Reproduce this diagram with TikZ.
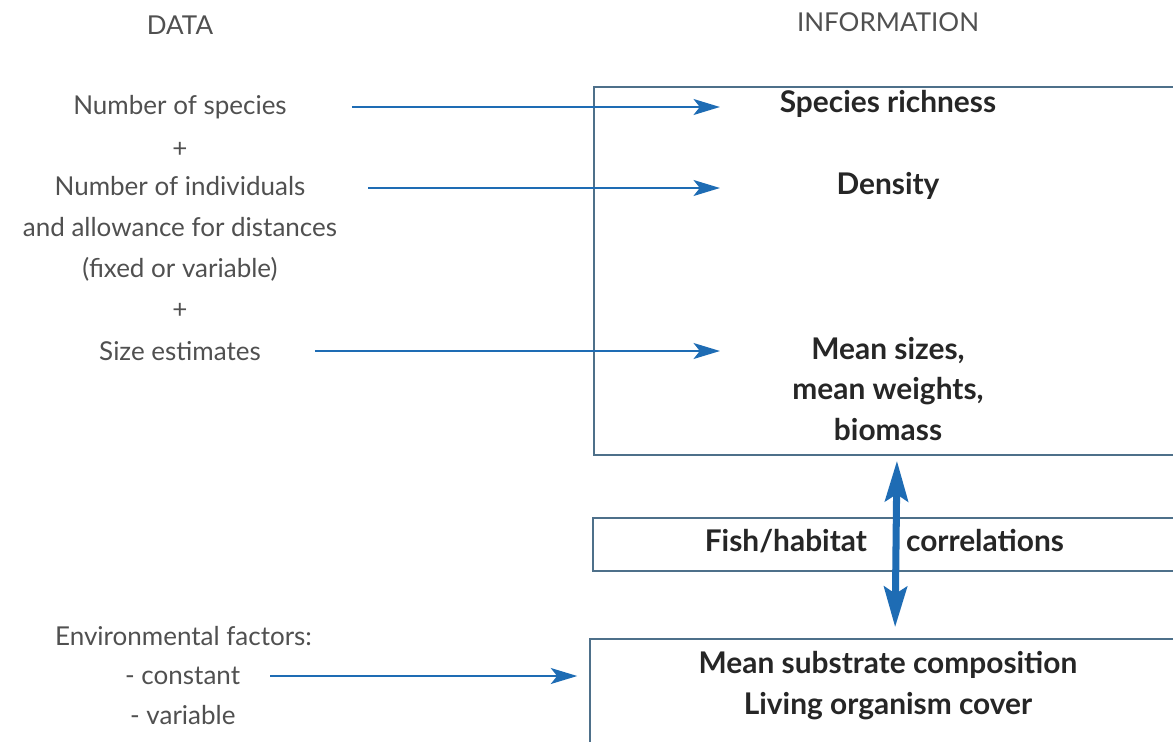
\documentclass[tikz,border=0pt]{standalone}
\usepackage{fontspec}
\setmainfont{Lato}
\usetikzlibrary{arrows.meta,positioning}
\definecolor{arrowblue}{RGB}{30,108,180}
\definecolor{boxline}{RGB}{78,112,138}
\definecolor{datagray}{RGB}{80,80,80}
\tikzset{
  datatext/.style={text=datagray,font=\fontsize{14.8}{23.3}\selectfont,align=center,inner sep=1pt},
  infotext/.style={text=black!85,font=\bfseries\fontsize{17}{23.3}\selectfont,align=center,inner sep=1pt},
  infobox/.style={draw=boxline,line width=0.9pt,inner sep=0pt},
  thinarrow/.style={draw=arrowblue,line width=1.6pt,-{Stealth[length=15pt,width=9pt,inset=3.5pt]}},
  bigarrow/.style={draw=arrowblue,line width=4pt,{Stealth[length=23pt,width=13pt,inset=4pt]}-{Stealth[length=23pt,width=13pt,inset=4pt]}}
}
\begin{document}
\begin{tikzpicture}[x=0.02cm,y=-0.02cm]
\useasboundingbox (0,0) rectangle (1173,741);

\node[datatext] (data) at (180,25) {DATA};
\node[datatext] (inform) at (888,22) {INFORMATION};

\node[infobox,minimum width=12.12cm,minimum height=7.36cm] (info) at (897,271) {};
\node[infobox,minimum width=12.14cm,minimum height=1.06cm] (corr) at (896.5,544.5) {};
\node[infobox,minimum width=12.2cm,minimum height=2.42cm] (env) at (895,699.5) {};

\node[infotext] (srich) at (888,104) {Species richness};
\node[infotext] (dens) at (888,186) {Density};
\node[infotext] (msize) at (888,389) {Mean sizes,\\mean weights,\\biomass};
\node[infotext,anchor=east] (fish) at (869,541) {Fish/habitat};
\node[infotext,anchor=west] (correl) at (904,541) {correlations};
\node[infotext] (subst) at (888,685.5) {Mean substrate composition\\Living organism cover};

\node[datatext] (nspec) at (180,107) {Number of species};
\node[datatext] (plusa) at (180,150) {+};
\node[datatext] (nind) at (180,229) {Number of individuals\\and allowance for distances\\(fixed or variable)};
\node[datatext] (plusb) at (180,311) {+};
\node[datatext] (size) at (180,351) {Size estimates};

\node[datatext,anchor=west] (envf) at (53,636) {Environmental factors:};
\node[datatext,anchor=west] (const) at (123,676) {- constant};
\node[datatext,anchor=west] (vari) at (128,715) {- variable};

\coordinate (tip) at (720,0);
\coordinate (nindarr) at (368,188);
\draw[thinarrow] ([xshift=1.26cm]nspec.east) -- (nspec.east -| tip);
\draw[thinarrow] (nindarr) -- (nindarr -| tip);
\draw[thinarrow] ([xshift=1.04cm]size.east) -- (size.east -| tip);
\draw[thinarrow,shorten >=0.24cm] ([xshift=0.56cm]const.east) -- (const.east -| env.west);

\draw[bigarrow,shorten <=0.1cm,shorten >=0.22cm] (info.south) -- (env.north);

\end{tikzpicture}
\end{document}
